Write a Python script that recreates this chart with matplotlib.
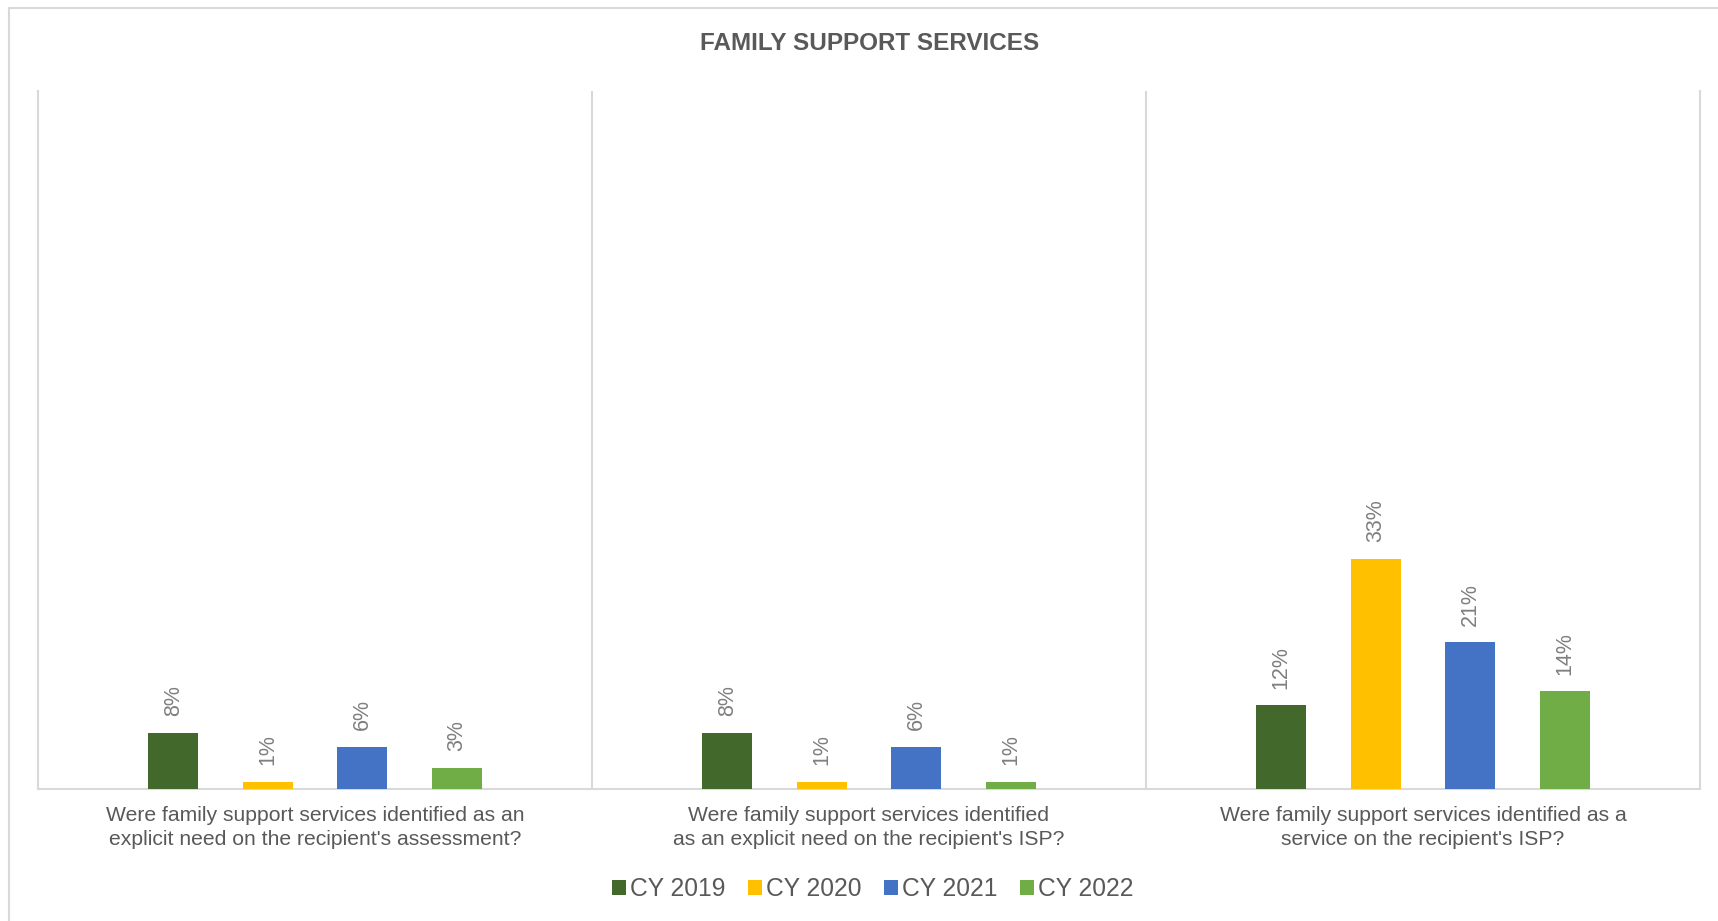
import matplotlib
matplotlib.use('Agg')
import matplotlib.pyplot as plt
from matplotlib.patches import Rectangle
import numpy as np

# ------------------------------------------------------------------ DATA
categories = [
	"Were family support services identified as an\nexplicit need on the recipient's assessment?",
	"Were family support services identified\nas an explicit need on the recipient's ISP?",
	"Were family support services identified as a\nservice on the recipient's ISP?",
]
years = ['CY 2019', 'CY 2020', 'CY 2021', 'CY 2022']
cy2019 = [8, 8, 12]
cy2020 = [1, 1, 33]
cy2021 = [6, 6, 21]
cy2022 = [3, 1, 14]
series = [cy2019, cy2020, cy2021, cy2022]
colors = ['#43682B', '#FFC000', '#4472C4', '#70AD47']

# ------------------------------------------------------------------ FIGURE
plt.rcParams['font.family'] = ['Liberation Sans', 'DejaVu Sans']

W, H = 1718, 921
fig = plt.figure(figsize=(W/100.0, H/100.0), dpi=100)
fig.patch.set_facecolor('white')

# chart frame (runs off the right and bottom edges)
fig.patches.append(Rectangle((9.0/W, -0.2), 2.0, 1.2 - 8.0/H, transform=fig.transFigure,
	fill=False, edgecolor='#d9d9d9', lw=1.5, zorder=0))

ax = fig.add_axes([38.0/W, 132.0/H, 1662.0/W, 698.0/H])

x = np.arange(len(categories))
step = 0.1706
width = 0.09
grid = '#d9d9d9'

for i, (vals, col, lab) in enumerate(zip(series, colors, years)):
	pos = x + (i - 1.5)*step
	bars = ax.bar(pos, vals, width, color=col, label=lab, zorder=3)
	for b, v in zip(bars, vals):
		ax.annotate('%d%%' % v, (b.get_x() + b.get_width()/2.0, v),
			xytext=(0, 12), textcoords='offset points', rotation=90,
			ha='center', va='bottom', fontsize=15.5, color='#7f7f7f')

ax.set_xlim(-0.5, 2.5)
ax.set_ylim(0, 100)
ax.set_yticks([])

# separators between the question groups
for xs in [0.5, 1.5]:
	ax.axvline(xs, color=grid, lw=1.5, zorder=1)

for s in ['left', 'right', 'bottom']:
	ax.spines[s].set_color(grid)
	ax.spines[s].set_linewidth(1.5)
ax.spines['top'].set_visible(False)

ax.set_xticks(x)
ax.set_xticklabels(categories, fontsize=15.2, color='#595959', linespacing=1.3)
ax.tick_params(axis='x', length=0, pad=12.5)

fig.text(0.506, 1 - 44.0/H, 'FAMILY SUPPORT SERVICES', ha='center', va='center',
	fontsize=17.5, fontweight='bold', color='#595959')

fig.legend(loc='center', bbox_to_anchor=(0.508, 1 - 889.0/H), ncol=4, frameon=False,
	fontsize=17.7, handlelength=0.55, handleheight=0.55, handletextpad=0.15,
	columnspacing=0.95, labelcolor='#595959')

fig.savefig('out.png', dpi=100, facecolor='white')
